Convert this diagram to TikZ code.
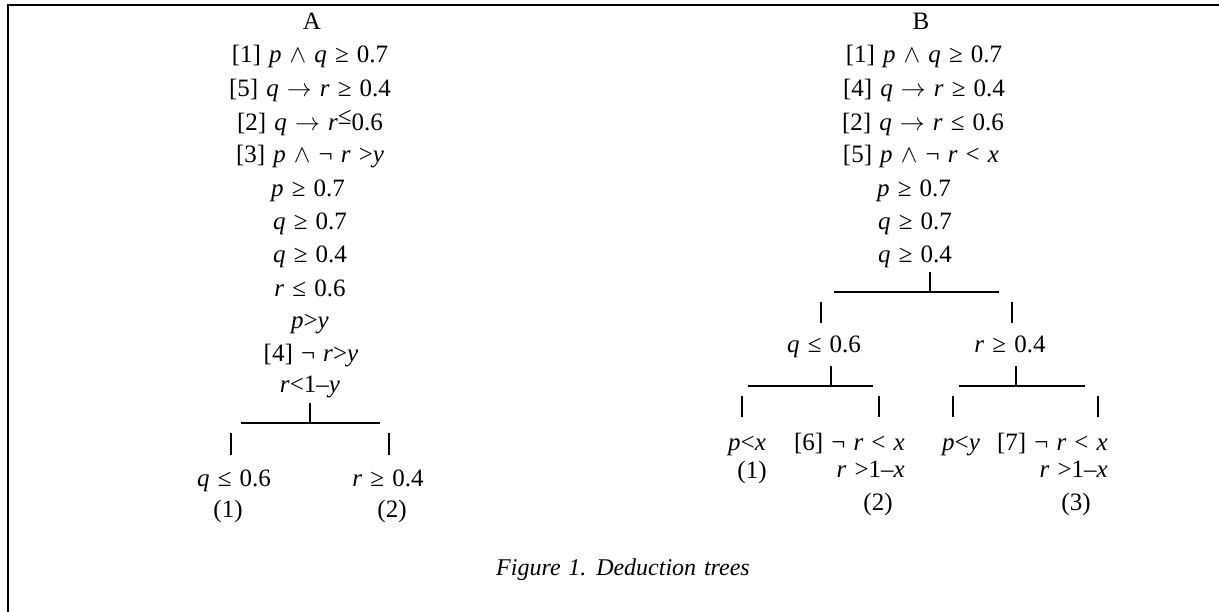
\documentclass[tikz,border=0pt]{standalone}
\usepackage{fontspec}
\setmainfont[WordSpace=1.3]{Liberation Serif}
\newcommand{\I}[1]{\textit{#1}}
\tikzset{
  lbl/.style={anchor=base, inner sep=0pt, font=\fontsize{25}{29}\selectfont},
  lblr/.style={lbl, anchor=base east},
  lbll/.style={lbl, anchor=base west},
  conn/.style={line width=1.1pt},
  frame/.style={line width=2pt}
}
\begin{document}
\begin{tikzpicture}[x=1pt,y=-1pt]
\useasboundingbox (0,0) rectangle (1219,612);
\draw[frame] (8,613) -- (8,5) -- (1220,5);

% ---------- Tree A ----------
\node[lbl] (aT) at (312,30) {A};
\node[lbl] (a1) at (310,63) {[1] \I{p} $\wedge$ \I{q} ≥ 0.7};
\node[lbl] (a2) at (310,97) {[5] \I{q} $\rightarrow$ \I{r} ≥ 0.4};
\node[lbl] (a3) at (310,131) {[2] \I{q} $\rightarrow$ \I{r}\raisebox{6pt}{≤}0.6};
\node[lbl] (a4) at (310,163) {[3] \I{p} $\wedge$ ¬ \I{r} >\I{y}};
\node[lbl] (a5) at (308,197) {\I{p} ≥ 0.7};
\node[lbl] (a6) at (310,230) {\I{q} ≥ 0.7};
\node[lbl] (a7) at (310,263) {\I{q} ≥ 0.4};
\node[lbl] (a8) at (310,297) {\I{r} ≤ 0.6};
\node[lbl] (a9) at (310,329) {\I{p}>\I{y}};
\node[lbl] (a10) at (311,362) {[4] ¬ \I{r}>\I{y}};
\node[lbl] (a11) at (310,393) {\I{r}<1–\I{y}};

\coordinate (aBarL) at (241,423);
\coordinate (aBarR) at (380,423);
\coordinate (aTick) at (310,403);
\coordinate (aJoin) at (310,423);
\coordinate (aV1t) at (231,433);
\coordinate (aV1b) at (231,455);
\coordinate (aV2t) at (389,433);
\coordinate (aV2b) at (389,455);
\draw[conn] (aBarL) -- (aBarR);
\draw[conn] (aTick) -- (aJoin);
\draw[conn] (aV1t) -- (aV1b);
\draw[conn] (aV2t) -- (aV2b);

\node[lbl] (aC1) at (234,486) {\I{q} ≤ 0.6};
\node[lbl] (aC2) at (388,486) {\I{r} ≥ 0.4};
\node[lbl] (aN1) at (228,517) {(1)};
\node[lbl] (aN2) at (392,517) {(2)};

% ---------- Tree B ----------
\node[lbl] (bT) at (921,30) {B};
\node[lbl] (b1) at (924,63) {[1] \I{p} $\wedge$ \I{q} ≥ 0.7};
\node[lbl] (b2) at (924,97) {[4] \I{q} $\rightarrow$ \I{r} ≥ 0.4};
\node[lbl] (b3) at (923,131) {[2] \I{q} $\rightarrow$ \I{r} ≤ 0.6};
\node[lbl] (b4) at (921,163) {[5] \I{p} $\wedge$ ¬ \I{r} < \I{x}};
\node[lbl] (b5) at (914,197) {\I{p} ≥ 0.7};
\node[lbl] (b6) at (915,230) {\I{q} ≥ 0.7};
\node[lbl] (b7) at (915,263) {\I{q} ≥ 0.4};

\coordinate (bBarL) at (834,292);
\coordinate (bBarR) at (999,292);
\coordinate (bTick) at (930,272);
\coordinate (bJoin) at (930,292);
\coordinate (bV1t) at (821,302);
\coordinate (bV1b) at (821,323);
\coordinate (bV2t) at (1012,302);
\coordinate (bV2b) at (1012,323);
\draw[conn] (bBarL) -- (bBarR);
\draw[conn] (bTick) -- (bJoin);
\draw[conn] (bV1t) -- (bV1b);
\draw[conn] (bV2t) -- (bV2b);

\node[lbl] (bC1) at (824,353) {\I{q} ≤ 0.6};
\node[lbl] (bC2) at (1010,353) {\I{r} ≥ 0.4};

% left sub-bar
\coordinate (cBarL) at (748,386);
\coordinate (cBarR) at (873,386);
\coordinate (cTick) at (831,366);
\coordinate (cJoin) at (831,386);
\coordinate (cV1t) at (742,396);
\coordinate (cV1b) at (742,417);
\coordinate (cV2t) at (879,396);
\coordinate (cV2b) at (879,417);
\draw[conn] (cBarL) -- (cBarR);
\draw[conn] (cTick) -- (cJoin);
\draw[conn] (cV1t) -- (cV1b);
\draw[conn] (cV2t) -- (cV2b);

% right sub-bar
\coordinate (dBarL) at (959,386);
\coordinate (dBarR) at (1085,386);
\coordinate (dTick) at (1016,366);
\coordinate (dJoin) at (1016,386);
\coordinate (dV1t) at (953,396);
\coordinate (dV1b) at (953,417);
\coordinate (dV2t) at (1098,396);
\coordinate (dV2b) at (1098,417);
\draw[conn] (dBarL) -- (dBarR);
\draw[conn] (dTick) -- (dJoin);
\draw[conn] (dV1t) -- (dV1b);
\draw[conn] (dV2t) -- (dV2b);

\node[lbl] (bL1) at (747,450) {\I{p}<\I{x}};
\node[lbl] (bN1) at (752,478) {(1)};
\node[lblr] (bL2) at (905,450) {[6] ¬ \I{r} < \I{x}};
\node[lblr] (bL2b) at (905,477) {\I{r} >1–\I{x}};
\node[lbl] (bN2) at (878,510) {(2)};
\node[lbll] (bL3) at (942,450) {\I{p}<\I{y}};
\node[lblr] (bL4) at (1108,450) {[7] ¬ \I{r} < \I{x}};
\node[lblr] (bL4b) at (1108,477) {\I{r} >1–\I{x}};
\node[lbl] (bN3) at (1076,510) {(3)};

% caption
\node[lbl, font=\fontsize{24}{28}\selectfont\itshape] (cap) at (623,575) {Figure 1. Deduction trees};
\end{tikzpicture}
\end{document}
